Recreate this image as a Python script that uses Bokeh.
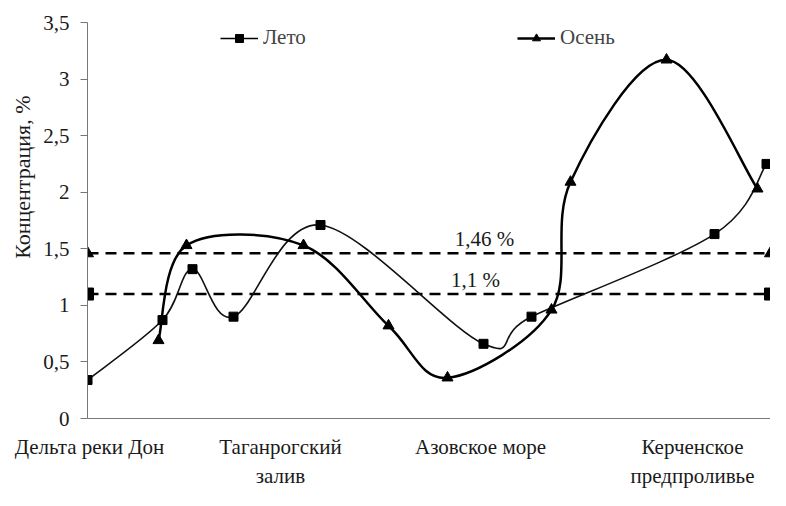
import numpy as np
from bokeh.plotting import figure
from bokeh.models import (FixedTicker, LabelSet, ColumnDataSource, Legend,
                          LegendItem, Range1d, LinearAxis, Title)
from bokeh.embed import file_html
from bokeh.resources import INLINE

# ---- data ----
leto_x = [0, 75, 105, 146, 233, 396, 444, 627, 679]
leto_y = [0.34, 0.87, 1.32, 0.90, 1.71, 0.66, 0.90, 1.63, 2.25]
osen_x = [71, 99, 216, 301, 360, 464, 483, 579, 670]
osen_y = [0.69, 1.53, 1.53, 0.82, 0.36, 0.96, 2.09, 3.17, 2.03]
ref_levels = [1.1, 1.46]
ref_texts = ["1,1 %", "1,46 %"]
ref_text_x = [388, 397]
y_ticks = [0, 0.5, 1, 1.5, 2, 2.5, 3, 3.5]
y_tick_labels = ["0", "0,5", "1", "1,5", "2", "2,5", "3", "3,5"]
cat_x = [2, 193, 393, 605]
cat_line1 = ["Дельта реки Дон", "Таганрогский", "Азовское море", "Керченское"]
cat_line2 = ["", "залив", "", "предпроливье"]
x_max = 683
y_max = 3.5

FONT = "Liberation Serif"
TXT = "#1a1a1a"


def smooth_bezier(xs, ys):
    xs = np.asarray(xs, float)
    ys = np.asarray(ys, float)
    n = len(xs)
    px = np.concatenate([[xs[0]], xs, [xs[-1]]])
    py = np.concatenate([[ys[0]], ys, [ys[-1]]])
    out = {k: [] for k in ["x0", "y0", "x1", "y1", "cx0", "cy0", "cx1", "cy1"]}
    for i in range(1, n):
        a, b, c, d = i - 1, i, i + 1, i + 2
        out["x0"].append(px[b]); out["y0"].append(py[b])
        out["x1"].append(px[c]); out["y1"].append(py[c])
        out["cx0"].append(px[b] + (px[c] - px[a]) / 6)
        out["cy0"].append(py[b] + (py[c] - py[a]) / 6)
        out["cx1"].append(px[c] - (px[d] - px[b]) / 6)
        out["cy1"].append(py[c] - (py[d] - py[b]) / 6)
    return out


p = figure(width=770, height=490, output_backend="svg", toolbar_location=None,
           x_range=Range1d(0, x_max), y_range=Range1d(0, y_max),
           min_border_left=87, min_border_right=0, min_border_top=22,
           min_border_bottom=60)
p.outline_line_color = None
p.grid.visible = False
p.background_fill_color = "white"

# reference dashed lines with end markers
for lvl, mk in zip(ref_levels, ["square", "triangle"]):
    p.line([0, x_max], [lvl, lvl], line_color="black", line_width=2.5, line_dash="11 7")
    p.scatter([0, x_max], [lvl, lvl], marker=mk, size=12, color="black")

ref_src = ColumnDataSource(dict(x=ref_text_x, y=[v + 0.02 for v in ref_levels], t=ref_texts))
p.add_layout(LabelSet(x="x", y="y", text="t", source=ref_src, text_align="center",
                      text_baseline="bottom", text_font=FONT, text_font_size="21px",
                      text_color=TXT))

# Лето
lb = smooth_bezier(leto_x, leto_y)
p.bezier(line_color="#111111", line_width=1.6, **lb)
leto_pts = p.scatter(leto_x, leto_y, marker="square", size=9, color="black")

# Осень
ob = smooth_bezier(osen_x, osen_y)
p.bezier(line_color="black", line_width=2.5, **ob)
osen_pts = p.scatter(osen_x, osen_y, marker="triangle", size=11, color="black")

# legend sample lines (kept outside the visible range)
leto_leg_line = p.line([-100, -90], [-1, -1], line_color="black", line_width=1.6)
osen_leg_line = p.line([-100, -90], [-1, -1], line_color="black", line_width=2.5)

for label, rends, loc in [("Лето", [leto_leg_line, leto_pts], (133, 368)),
                          ("Осень", [osen_leg_line, osen_pts], (430, 368))]:
    lg = Legend(items=[LegendItem(label=label, renderers=rends)], location=loc,
                padding=0, margin=0, border_line_color=None, background_fill_alpha=0,
                label_text_font=FONT, label_text_font_size="21px", glyph_width=38,
                label_standoff=5)
    p.add_layout(lg, "center")

# y axis
p.yaxis.ticker = FixedTicker(ticks=y_ticks)
p.yaxis.major_label_overrides = {t: l for t, l in zip(y_ticks, y_tick_labels)}
p.yaxis.major_label_text_font = FONT
p.yaxis.major_label_text_font_size = "21px"
p.yaxis.major_label_text_color = TXT
p.yaxis.axis_line_color = "#777777"
p.yaxis.major_tick_line_color = "#777777"
p.yaxis.major_tick_in = 0
p.yaxis.major_tick_out = 7
p.yaxis.minor_tick_line_color = None
p.yaxis.major_label_standoff = 11

# x axis: first line of category labels
p.xaxis.ticker = FixedTicker(ticks=cat_x)
p.xaxis.major_label_overrides = {t: l for t, l in zip(cat_x, cat_line1)}
p.xaxis.axis_line_color = "#777777"
p.xaxis.major_tick_line_color = None
p.xaxis.minor_tick_line_color = None
p.xaxis.major_label_standoff = 10
p.xaxis.major_label_text_font = FONT
p.xaxis.major_label_text_font_size = "21px"
p.xaxis.major_label_text_color = TXT

# second line of category labels
ax2 = LinearAxis(ticker=FixedTicker(ticks=cat_x),
                 major_label_overrides={t: l for t, l in zip(cat_x, cat_line2)},
                 axis_line_color=None, major_tick_line_color=None,
                 minor_tick_line_color=None, major_label_standoff=-4,
                 major_label_text_font=FONT, major_label_text_font_size="21px",
                 major_label_text_color=TXT)
p.add_layout(ax2, "below")

# y-axis title
p.add_layout(Title(text="Концентрация, %", align="right", offset=73, standoff=10,
                   vertical_align="middle",
                   text_font=FONT, text_font_size="22px", text_font_style="normal",
                   text_color=TXT), "left")

open("out.html", "w").write(file_html(p, INLINE))
